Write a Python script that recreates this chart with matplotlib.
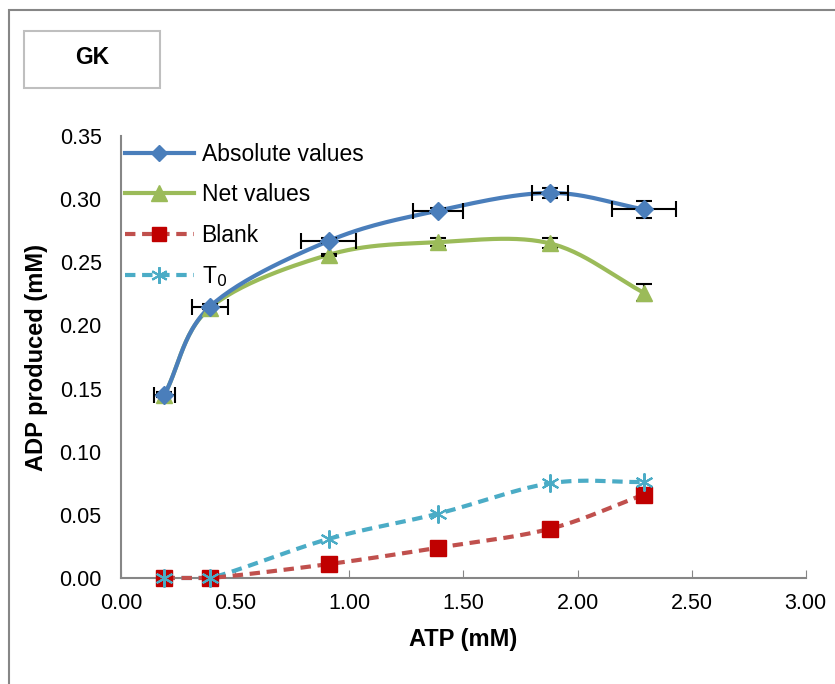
import numpy as np
import matplotlib.pyplot as plt
from matplotlib.patches import Rectangle
from matplotlib.lines import Line2D

# data
atp = [0.19, 0.39, 0.91, 1.39, 1.88, 2.29]
absolute = [0.145, 0.215, 0.267, 0.291, 0.305, 0.292]
absolute_xerr = [0.045, 0.08, 0.12, 0.11, 0.08, 0.14]
absolute_yerr = [0.002, 0.002, 0.002, 0.002, 0.004, 0.007]
net = [0.145, 0.214, 0.256, 0.266, 0.265, 0.226]
net_yerr = [0.001, 0.001, 0.001, 0.003, 0.004, 0.007]
blank = [0.0, 0.0, 0.011, 0.024, 0.039, 0.066]
t0 = [0.0, 0.0, 0.031, 0.051, 0.075, 0.076]

x_ticks = [0.0, 0.5, 1.0, 1.5, 2.0, 2.5, 3.0]
y_ticks = [0.0, 0.05, 0.10, 0.15, 0.20, 0.25, 0.30, 0.35]


def smooth(xs, ys, n=30):
    # Catmull-Rom style curve through the points, similar to Excel smoothed lines
    xs = np.asarray(xs, float)
    ys = np.asarray(ys, float)
    px = np.concatenate([[2 * xs[0] - xs[1]], xs, [2 * xs[-1] - xs[-2]]])
    py = np.concatenate([[2 * ys[0] - ys[1]], ys, [2 * ys[-1] - ys[-2]]])
    out_x, out_y = [], []
    t = np.linspace(0, 1, n)
    for i in range(1, len(px) - 2):
        c = 1 / 6
        x0, x1, x2, x3 = px[i - 1], px[i], px[i + 1], px[i + 2]
        y0, y1, y2, y3 = py[i - 1], py[i], py[i + 1], py[i + 2]
        bx = [x1, x1 + (x2 - x0) * c, x2 - (x3 - x1) * c, x2]
        by = [y1, y1 + (y2 - y0) * c, y2 - (y3 - y1) * c, y2]
        for arr, b in ((out_x, bx), (out_y, by)):
            arr.extend((1 - t) ** 3 * b[0] + 3 * (1 - t) ** 2 * t * b[1]
                       + 3 * (1 - t) * t ** 2 * b[2] + t ** 3 * b[3])
    return out_x, out_y


plt.rcParams['font.family'] = ['Liberation Sans', 'DejaVu Sans']

fig = plt.figure(figsize=(8.35, 6.84), dpi=100)
ax = fig.add_axes([0.145, 0.155, 0.82, 0.646])

blue = '#4A7EBB'
green = '#9BBB59'
red_line = '#C0504D'
red_mark = '#C00000'
cyan = '#4BACC6'

# T0 and Blank (dashed)
sx, sy = smooth(atp, t0)
ax.plot(sx, np.clip(sy, 0, None), color=cyan, lw=3, ls=(0, (2.5, 1.6)), zorder=3,
        clip_on=False)
ax.plot(atp, t0, ls='none', marker=(6, 2, 0), ms=13, mew=1.5, color=cyan,
        zorder=6, clip_on=False)
sx, sy = smooth(atp, blank)
ax.plot(sx, np.clip(sy, 0, None), color=red_line, lw=3, ls=(0, (2.5, 1.6)), zorder=3,
        clip_on=False)
ax.plot(atp, blank, ls='none', marker='s', ms=11, color=red_mark, zorder=5,
        clip_on=False)

# Net values
sx, sy = smooth(atp, net)
ax.plot(sx, sy, color=green, lw=3, zorder=3)
ax.errorbar(atp, net, yerr=net_yerr, fmt='none', ecolor='black', elinewidth=1.5,
            capsize=6, capthick=1.5, zorder=4)
ax.plot(atp, net, ls='none', marker='^', ms=12, color=green, zorder=5)

# Absolute values
sx, sy = smooth(atp, absolute)
ax.plot(sx, sy, color=blue, lw=3, zorder=3)
ax.errorbar(atp, absolute, xerr=absolute_xerr, yerr=absolute_yerr, fmt='none',
            ecolor='black', elinewidth=1.5, capsize=6, capthick=1.5, zorder=4)
ax.plot(atp, absolute, ls='none', marker='D', ms=9, color=blue, zorder=5)

ax.set_xlim(0, 3.0)
ax.set_ylim(0, 0.35)
ax.set_xticks(x_ticks)
ax.set_yticks(y_ticks)
ax.set_xticklabels([f'{v:.2f}' for v in x_ticks], fontsize=15.5)
ax.set_yticklabels([f'{v:.2f}' for v in y_ticks], fontsize=15.5)
ax.tick_params(axis='x', direction='in', length=6, color='#868686', pad=11)
ax.tick_params(axis='y', direction='out', length=0, pad=14)
for side in ('top', 'right'):
    ax.spines[side].set_visible(False)
for side in ('left', 'bottom'):
    ax.spines[side].set_color('#868686')
    ax.spines[side].set_linewidth(1.5)

ax.set_xlabel('ATP (mM)', fontsize=17, fontweight='bold', labelpad=10)
ax.set_ylabel('ADP produced (mM)', fontsize=17, fontweight='bold', labelpad=8)

handles = [
    Line2D([], [], color=blue, lw=3, marker='D', ms=8),
    Line2D([], [], color=green, lw=3, marker='^', ms=11),
    Line2D([], [], color=red_line, lw=3, ls=(0, (2.5, 1.6)), marker='s', ms=10,
           markerfacecolor=red_mark, markeredgecolor=red_mark),
    Line2D([], [], color=cyan, lw=3, ls=(0, (2.5, 1.6)), marker=(6, 2, 0), ms=12, mew=1.5),
]
labels = ['Absolute values', 'Net values', 'Blank', 'T$_0$']
leg = ax.legend(handles, labels, loc='upper left', bbox_to_anchor=(-0.008, 1.005),
                frameon=False, fontsize=16.5, handlelength=3.0, handletextpad=0.35,
                labelspacing=0.76, borderaxespad=0)
leg.set_zorder(10)

# outer chart border and title box
fig.patches.append(Rectangle((9 / 835, -0.1), 1.2, 1 - 10 / 684 + 0.1,
                             transform=fig.transFigure, fill=False,
                             edgecolor='#868686', lw=1.5))
fig.patches.append(Rectangle((24 / 835, 1 - 88 / 684), 136 / 835, 57 / 684,
                             transform=fig.transFigure, fill=False,
                             edgecolor='#BFBFBF', lw=1.5))
fig.text(92 / 835, 1 - 58 / 684, 'GK', ha='center', va='center',
         fontsize=16.5, fontweight='bold')

fig.savefig('out.png', dpi=100)
